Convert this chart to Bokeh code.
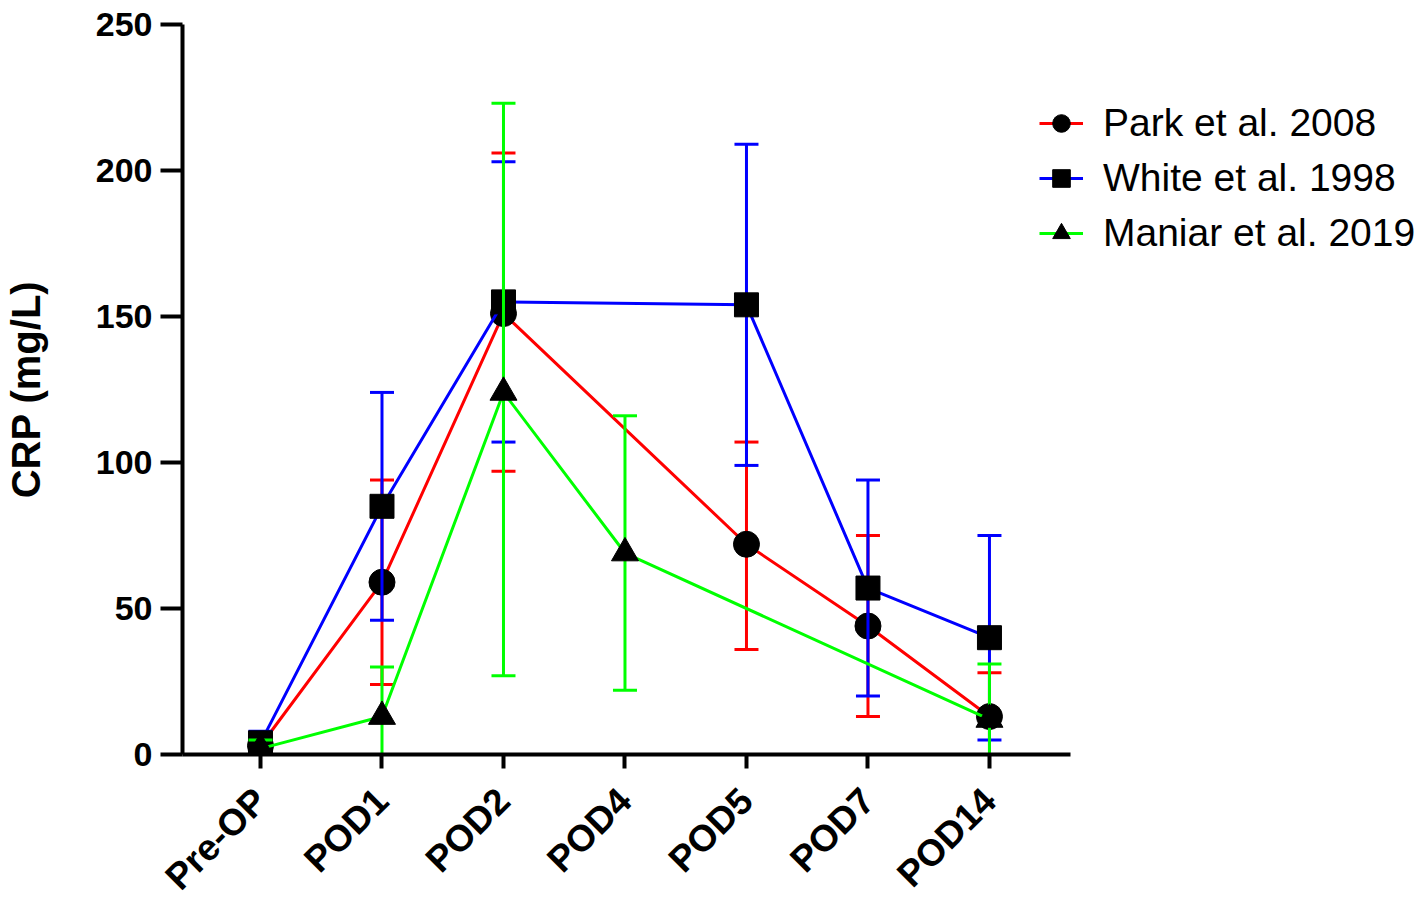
import math
from bokeh.plotting import figure
from bokeh.models import Range1d, FixedTicker, Legend, LegendItem
from bokeh.embed import file_html
from bokeh.resources import INLINE

categories = ["Pre-OP", "POD1", "POD2", "POD4", "POD5", "POD7", "POD14"]

park_cats = ["Pre-OP", "POD1", "POD2", "POD5", "POD7", "POD14"]
park_mean = [3, 59, 151, 72, 44, 13]
park_low = [0, 24, 97, 36, 13, 0]
park_high = [6, 94, 206, 107, 75, 28]

white_cats = ["Pre-OP", "POD1", "POD2", "POD5", "POD7", "POD14"]
white_mean = [4, 85, 155, 154, 57, 40]
white_low = [0, 46, 107, 99, 20, 5]
white_high = [8, 124, 203, 209, 94, 75]

maniar_cats = ["Pre-OP", "POD1", "POD2", "POD4", "POD14"]
maniar_mean = [2, 13, 124, 69, 12]
maniar_low = [0, 0, 27, 22, 0]
maniar_high = [5, 30, 223, 116, 31]

y_ticks = [0, 50, 100, 150, 200, 250]

FONT = "Liberation Sans"

p = figure(frame_width=888, frame_height=730,
           x_range=Range1d(-0.642, 6.667), y_range=Range1d(0, 250),
           output_backend="svg", toolbar_location=None,
           min_border_left=176, min_border_top=24,
           min_border_right=336, min_border_bottom=134)
p.outline_line_color = None
p.xgrid.visible = False
p.ygrid.visible = False
p.background_fill_color = "white"
p.border_fill_color = "white"

series = [
    ("Park et al. 2008", park_cats, park_mean, park_low, park_high, "#FF0000", "circle", 26),
    ("White et al. 1998", white_cats, white_mean, white_low, white_high, "#0000FF", "square", 24),
    ("Maniar et al. 2019", maniar_cats, maniar_mean, maniar_low, maniar_high, "#00FF00", "triangle", 27),
]

items = []
for name, cats, mean, lo, hi, color, marker, size in series:
    xs = [categories.index(c) for c in cats]
    p.segment(xs, lo, xs, hi, line_color=color, line_width=3)
    p.scatter(xs, lo, marker="dash", size=24, line_color=color, line_width=3)
    p.scatter(xs, hi, marker="dash", size=24, line_color=color, line_width=3)
    ln = p.line(xs, mean, line_color=color, line_width=3)
    sc = p.scatter(xs, mean, marker=marker, size=size, fill_color="black", line_color="black")
    items.append(LegendItem(label=name, renderers=[ln, sc]))

for ax in (p.xaxis, p.yaxis):
    ax.axis_line_width = 4
    ax.axis_line_color = "black"
    ax.major_tick_line_width = 4
    ax.major_tick_line_color = "black"
    ax.major_tick_in = 0
    ax.minor_tick_line_color = None
    ax.major_label_text_font = FONT
    ax.major_label_text_font_style = "bold"
    ax.major_label_text_color = "black"

p.xaxis.ticker = FixedTicker(ticks=list(range(len(categories))))
p.xaxis.major_label_overrides = {i: c for i, c in enumerate(categories)}
p.xaxis.major_label_orientation = math.pi / 4
p.xaxis.major_label_text_font_size = "37px"
p.xaxis.major_tick_out = 14
p.xaxis.major_label_standoff = 26

p.yaxis.ticker = FixedTicker(ticks=y_ticks)
p.yaxis.major_label_text_font_size = "34px"
p.yaxis.major_tick_out = 22
p.yaxis.major_label_standoff = 8
p.yaxis.axis_label = "CRP (mg/L)"
p.yaxis.axis_label_text_font = FONT
p.yaxis.axis_label_text_font_style = "bold"
p.yaxis.axis_label_text_font_size = "40px"
p.yaxis.axis_label_text_color = "black"
p.yaxis.axis_label_standoff = 45

legend = Legend(items=items, location=(-31, 498))
legend.label_text_font = FONT
legend.label_text_font_size = "39px"
legend.label_text_color = "black"
legend.glyph_width = 44
legend.glyph_height = 46
legend.label_height = 46
legend.label_standoff = 20
legend.spacing = 9
legend.padding = 0
legend.margin = 0
legend.border_line_alpha = 0
legend.background_fill_alpha = 0
p.add_layout(legend, "right")

open("out.html", "w").write(file_html(p, INLINE))
